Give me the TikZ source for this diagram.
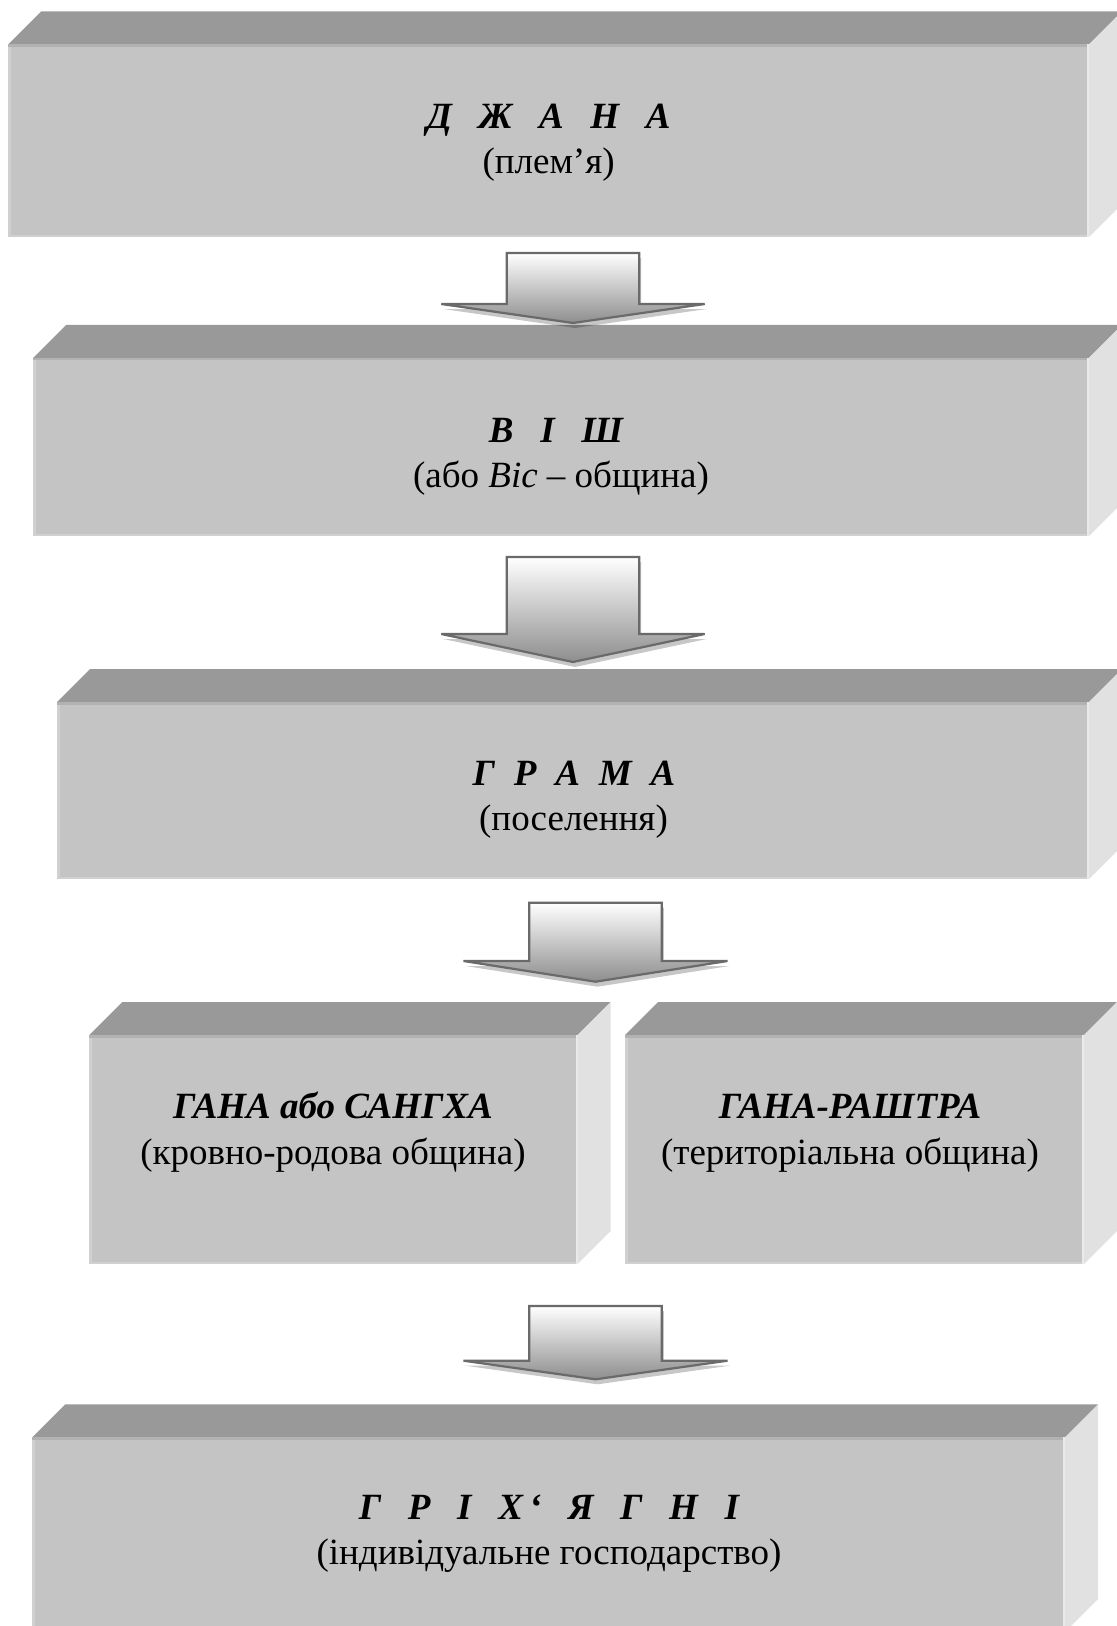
\documentclass[tikz,border=0pt]{standalone}
\usepackage{fontspec}
\setmainfont{Liberation Serif}
\definecolor{topgray}{HTML}{999999}
\definecolor{frontgray}{HTML}{C4C4C4}
\definecolor{sidegray}{HTML}{E1E1E1}
\definecolor{edgeleft}{HTML}{D0D0D0}
\definecolor{edgetop}{HTML}{B2B2B2}
\definecolor{edgeright}{HTML}{EAEAEA}
\definecolor{arrowline}{HTML}{6A6A6A}
\definecolor{arrowbottom}{HTML}{8E8E8E}
\def\cdepth{33}
\def\g{\hspace{0.72em}}
\def\gs{\hspace{0.51em}}
\newcommand\drawcube[5]{%
  \coordinate (#1-nw) at (#2,#3);
  \coordinate (#1-se) at (#4,#5);
  \fill[topgray] (#2,#3) -- (#2+\cdepth,#3-\cdepth) -- (#4+\cdepth,#3-\cdepth) -- (#4,#3) -- cycle;
  \fill[sidegray] (#4,#3) -- (#4+\cdepth,#3-\cdepth) -- (#4+\cdepth,#5-\cdepth) -- (#4,#5) -- cycle;
  \fill[frontgray] (#2,#3) rectangle (#4,#5);
  \draw[edgeleft,line width=2.5] (#2+1.25,#3) -- (#2+1.25,#5);
  \draw[edgeleft,line width=2.5] (#2,#5-1.25) -- (#4,#5-1.25);
  \draw[edgetop,line width=2.5] (#2,#3+1.25) -- (#4,#3+1.25);
  \draw[edgeright,line width=2] (#4-1,#3) -- (#4-1,#5);
}
\newcommand\blockarrow[7]{%
  \coordinate (#1) at (#2,#4);
  \fill[black,opacity=0.22,xshift=2pt,yshift=-5pt]
    (#2-#3,#4) -- (#2+#3,#4) -- (#2+#3,#5) -- (#2+#6,#5) -- (#2,#7) -- (#2-#6,#5) -- (#2-#3,#5) -- cycle;
  \draw[arrowstyle]
    (#2-#3,#4) -- (#2+#3,#4) -- (#2+#3,#5) -- (#2+#6,#5) -- (#2,#7) -- (#2-#6,#5) -- (#2-#3,#5) -- cycle;
}
\tikzset{
  arrowstyle/.style={draw=arrowline, line width=2.2pt, line join=miter, miter limit=3, top color=white, bottom color=arrowbottom},
  title/.style={anchor=base, inner sep=0pt, font=\fontsize{37}{45}\selectfont\bfseries\itshape},
  sub/.style={anchor=base, inner sep=0pt, font=\fontsize{37}{45}\selectfont},
}
\begin{document}
\begin{tikzpicture}[x=1pt,y=-1pt]
\useasboundingbox (0,0) rectangle (1117,1626);
\begin{scope}
\clip (0,0) rectangle (1117,1626);
\drawcube{b1}{8.3}{44.3}{1089}{237}
\drawcube{b2}{33.2}{357.8}{1089}{536}
\drawcube{b3}{57}{702}{1089}{879}
\drawcube{b4}{89.3}{1035}{577.7}{1264}
\drawcube{b5}{625}{1035}{1084}{1264}
\drawcube{b6}{32.3}{1437.3}{1065}{1632}
\blockarrow{a1}{573}{66.2}{253}{304}{131.7}{323}
\blockarrow{a2}{573}{66.2}{557}{634}{131.7}{662}
\blockarrow{a3}{595.5}{66.3}{902.7}{961}{132}{981.7}
\blockarrow{a4}{595.5}{66.3}{1306}{1360.7}{132}{1379.3}
\end{scope}
\node[title] (t1) at (548.6,128.5) {Д\g Ж\g А\g Н\g А};
\node[sub] (s1) at (548.6,173) {(плем’я)};
\node[title] (t2) at (556,442.6) {В\g І\g Ш};
\node[sub] (s2) at (561,487.5) {(або \textit{Віс} – община)};
\node[title] (t3) at (574,785.5) {Г\gs Р\gs А\gs М\gs А};
\node[sub] (s3) at (573.5,830) {(поселення)};
\node[title] (t4) at (333,1118.7) {ГАНА або САНГХА};
\node[sub] (s4) at (333,1164) {(кровно-родова община)};
\node[title] (t5) at (850,1118.7) {ГАНА-РАШТРА};
\node[sub] (s5) at (850,1164) {(територіальна община)};
\node[title] (t6) at (549,1519.2) {Г\g Р\g І\g Х\,‘\g Я\g Г\g Н\g І};
\node[sub] (s6) at (549,1564) {(індивідуальне господарство)};
\end{tikzpicture}
\end{document}
